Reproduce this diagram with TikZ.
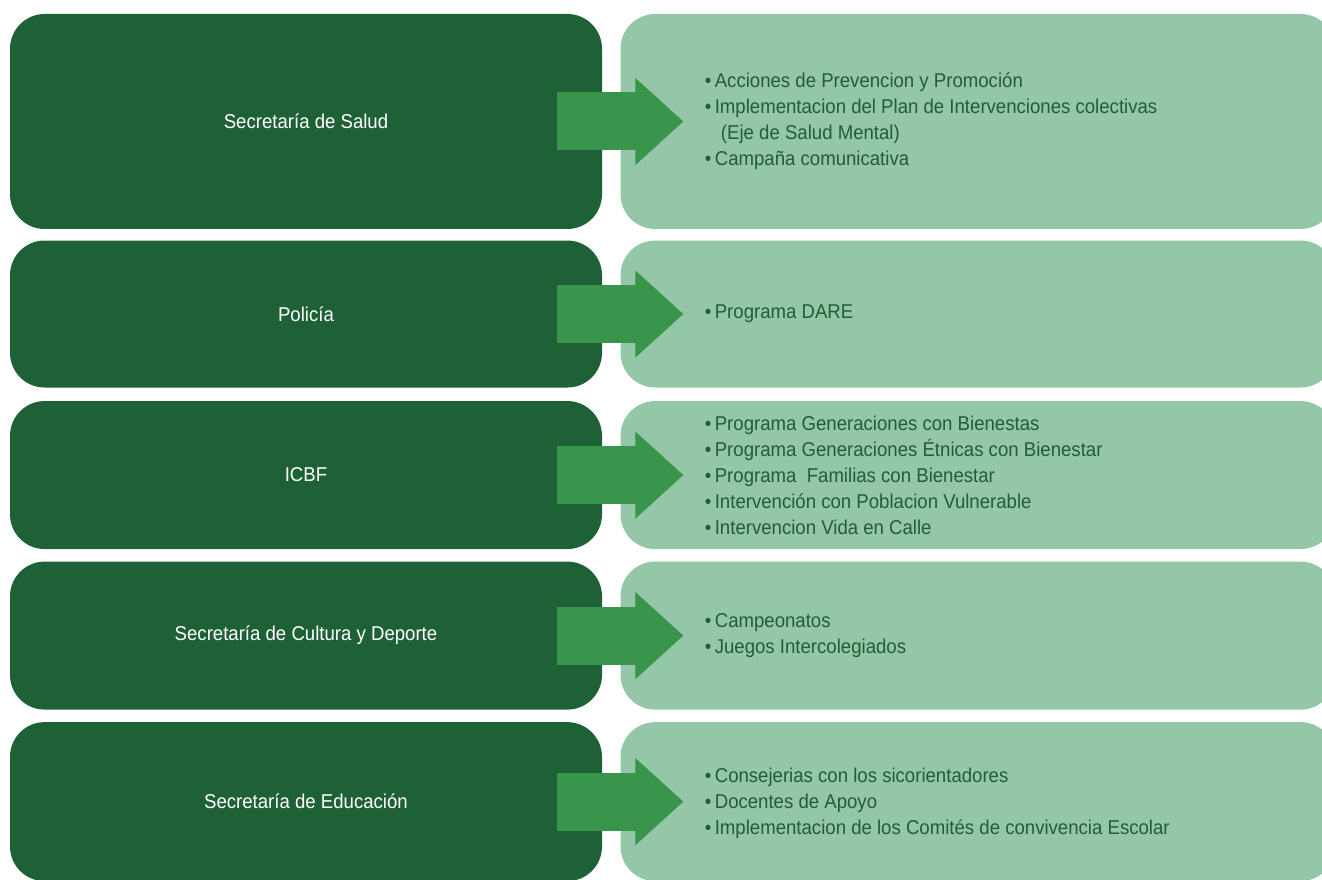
\documentclass[tikz,border=0pt]{standalone}
\usepackage{fontspec}
\setmainfont{Liberation Sans}[FakeStretch=0.93]
\usetikzlibrary{positioning, arrows.meta}

\definecolor{darkgreen}{HTML}{1F6137}
\definecolor{lightgreen}{HTML}{94C6A8}
\definecolor{arrowgreen}{HTML}{38954B}
\definecolor{textgreen}{HTML}{1F5E36}

\begin{document}
\begin{tikzpicture}[
		agency/.style={fill=darkgreen, text=white, rounded corners=26pt, minimum width=444pt, font=\fontsize{15}{19.5}\selectfont},
		actions/.style={fill=lightgreen, rounded corners=26pt, minimum width=536pt},
		items/.style={text=textgreen, align=left, anchor=west, font=\fontsize{15}{19.5}\selectfont},
		flow/.style={arrowgreen, line width=43.5pt, -{Triangle[length=36pt, width=65.25pt, line width=1pt]}},
		node distance=9pt
		]
		
		\useasboundingbox (0,0) rectangle (991.5pt,-660pt);
		
		% --- Agencies ---
		\node[agency, minimum height=161.25pt] (l1) at (229.5pt,-91.125pt) {Secretaría de Salud};
		\node[agency, minimum height=110.25pt, below=8.25pt of l1] (l2) {Policía};
		\node[agency, minimum height=111pt, below=9.75pt of l2] (l3) {ICBF};
		\node[agency, minimum height=111pt, below=of l3] (l4) {Secretaría de Cultura y Deporte};
		\node[agency, minimum height=119.25pt, below=of l4] (l5) {Secretaría de Educación};
		
		% --- Action boxes ---
		\node[actions, minimum height=161.25pt, right=13.5pt of l1] (r1) {};
		\node[actions, minimum height=110.25pt, right=13.5pt of l2] (r2) {};
		\node[actions, minimum height=111pt, right=13.5pt of l3] (r3) {};
		\node[actions, minimum height=111pt, right=13.5pt of l4] (r4) {};
		\node[actions, minimum height=119.25pt, right=13.5pt of l5] (r5) {};
		
		% --- Arrows ---
		\foreach \i in {1,...,5}
			\draw[flow] ([xshift=-33.75pt]l\i.east) -- ([xshift=47.25pt]r\i.west);
		
		% --- Lists ---
		\node[items] (t1) at ([xshift=60pt]r1.west) {•\,Acciones de Prevencion y Promoción\\
			•\,Implementacion del Plan de Intervenciones colectivas\\
			\hspace*{12pt}(Eje de Salud Mental)\\
			•\,Campaña comunicativa};
		\node[items] (t2) at ([xshift=60pt]r2.west) {•\,Programa DARE};
		\node[items] (t3) at ([xshift=60pt]r3.west) {•\,Programa Generaciones con Bienestas\\
			•\,Programa Generaciones Étnicas con Bienestar\\
			•\,Programa\ \ Familias con Bienestar\\
			•\,Intervención con Poblacion Vulnerable\\
			•\,Intervencion Vida en Calle};
		\node[items] (t4) at ([xshift=60pt]r4.west) {•\,Campeonatos\\
			•\,Juegos Intercolegiados};
		\node[items] (t5) at ([xshift=60pt, yshift=-1.5pt]r5.west) {•\,Consejerias con los sicorientadores\\
			•\,Docentes de Apoyo\\
			•\,Implementacion de los Comités de convivencia Escolar};
		
	\end{tikzpicture}
\end{document}
